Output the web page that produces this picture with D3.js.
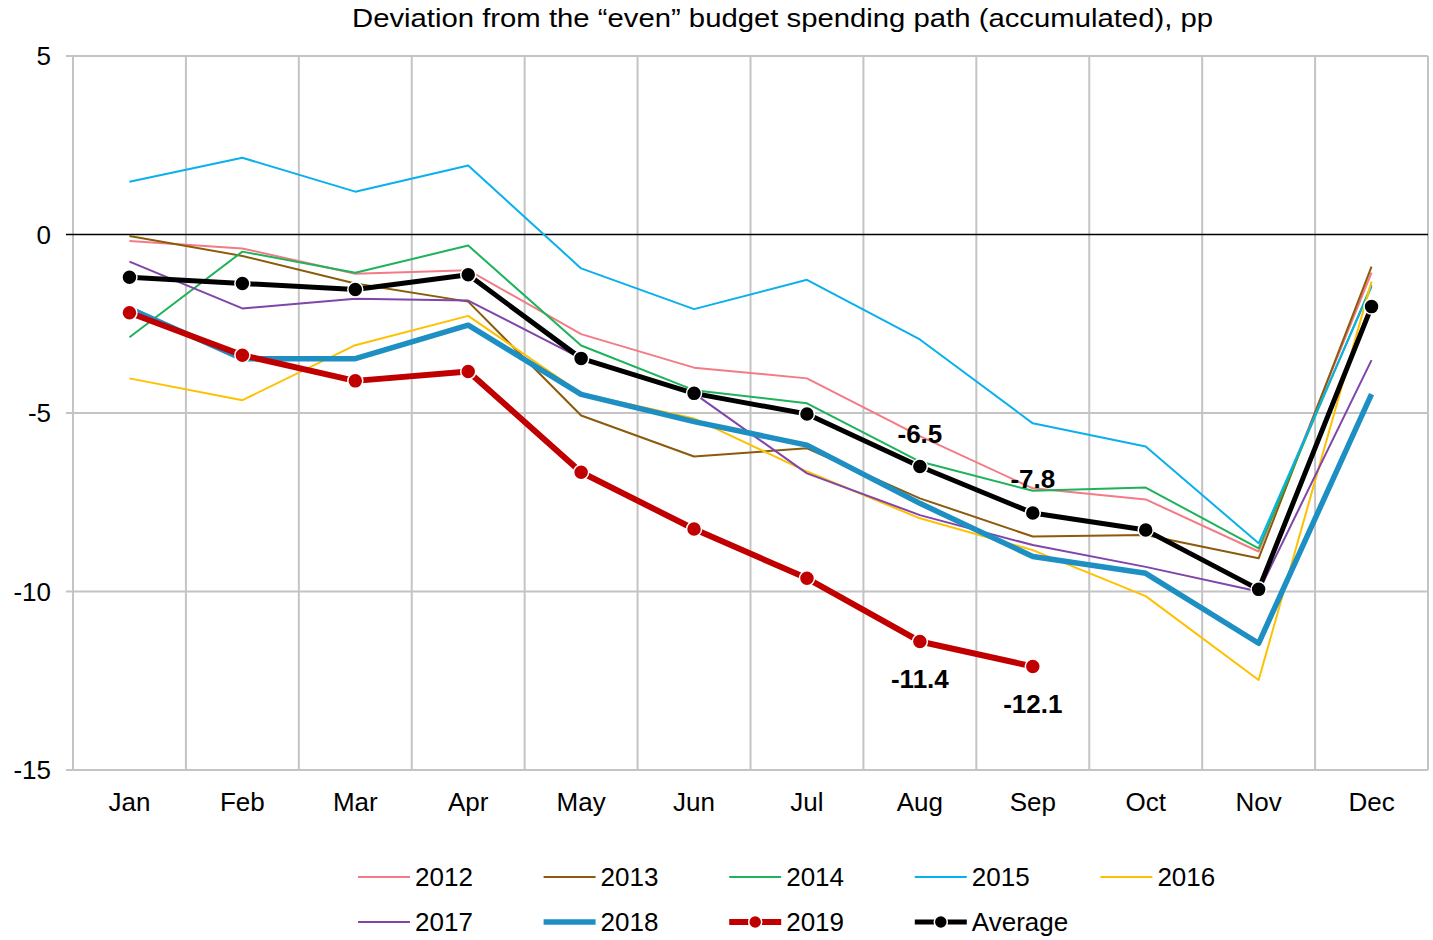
<!DOCTYPE html>
<html>
<head>
<meta charset="utf-8">
<script src="https://cdn.jsdelivr.net/npm/d3@7"></script>
<style>
  body { margin: 0; background: #fff; }
  text { font-family: "Liberation Sans", Arial, sans-serif; }
</style>
</head>
<body>
<div class="chart"></div>
<script>
var months = ["Jan", "Feb", "Mar", "Apr", "May", "Jun", "Jul", "Aug", "Sep", "Oct", "Nov", "Dec"];
var yTicks = [5, 0, -5, -10, -15];

var s2012 = [-0.18, -0.39, -1.1, -1.0, -2.79, -3.73, -4.03, -5.65, -7.11, -7.42, -8.88, -1.07];
var s2013 = [-0.04, -0.6, -1.37, -1.88, -5.07, -6.22, -5.99, -7.39, -8.46, -8.42, -9.07, -0.9];
var s2014 = [-2.88, -0.48, -1.07, -0.31, -3.11, -4.36, -4.73, -6.36, -7.18, -7.09, -8.79, -1.41];
var s2015 = [1.48, 2.15, 1.2, 1.93, -0.95, -2.09, -1.27, -2.94, -5.29, -5.94, -8.65, -1.46];
var s2016 = [-4.03, -4.64, -3.1, -2.28, -4.45, -5.15, -6.64, -7.95, -8.84, -10.13, -12.48, -1.32];
var s2017 = [-0.76, -2.07, -1.8, -1.85, -3.47, -4.45, -6.69, -7.86, -8.7, -9.31, -10.0, -3.52];
var s2018 = [-2.07, -3.48, -3.48, -2.54, -4.48, -5.24, -5.9, -7.53, -9.02, -9.49, -11.45, -4.47];
var s2019 = [-2.19, -3.38, -4.1, -3.84, -6.66, -8.25, -9.63, -11.4, -12.1];
var sAvg = [-1.2, -1.37, -1.54, -1.13, -3.47, -4.45, -5.03, -6.5, -7.8, -8.28, -9.94, -2.02];

var series = [
    { name: "2012", values: s2012, color: "#F27B86", width: 2 },
    { name: "2013", values: s2013, color: "#8C5A0B", width: 2 },
    { name: "2014", values: s2014, color: "#1EB25A", width: 2 },
    { name: "2015", values: s2015, color: "#0AB0EE", width: 2 },
    { name: "2016", values: s2016, color: "#FFC000", width: 2 },
    { name: "2017", values: s2017, color: "#7F45AA", width: 2 },
    { name: "2018", values: s2018, color: "#1E8FC3", width: 5.5 },
    { name: "2019", values: s2019, color: "#C00000", width: 6, marker: true },
    { name: "Average", values: sAvg, color: "#000000", width: 5, marker: true }
];

// labelled points: [series name, month index, label, offset]
var labels = [
    ["Average", 7, "-6.5", -33],
    ["Average", 8, "-7.8", -34],
    ["2019", 7, "-11.4", 37],
    ["2019", 8, "-12.1", 37]
];

var width = 1433, height = 940;
var margin = { left: 73, right: 5, top: 56, bottom: 170 };

var svg = d3.select(".chart").append("svg")
    .attr("width", width)
    .attr("height", height);

var x = d3.scaleBand().domain(months).range([margin.left, width - margin.right]);
var y = d3.scaleLinear().domain([-15, 5]).range([height - margin.bottom, margin.top]);

// title
svg.append("text")
    .attr("x", 352).attr("y", 27)
    .attr("textLength", 861)
    .attr("lengthAdjust", "spacingAndGlyphs")
    .style("font-size", "26px")
    .text("Deviation from the \u201ceven\u201d budget spending path (accumulated), pp");

// horizontal gridlines
var grid = svg.append("g");
grid.selectAll(".hg")
    .data(yTicks.filter(function(d) { return d !== 0; }))
    .enter().append("line")
    .attr("x1", margin.left - 7).attr("x2", width - margin.right)
    .attr("y1", function(d) { return y(d); }).attr("y2", function(d) { return y(d); })
    .attr("stroke", "#C4C4C4").attr("stroke-width", 2);

// vertical gridlines at band boundaries
var bounds = months.map(function(m) { return x(m); }).concat([x(months[11]) + x.bandwidth()]);
grid.selectAll(".vg")
    .data(bounds)
    .enter().append("line")
    .attr("x1", function(d) { return d; }).attr("x2", function(d) { return d; })
    .attr("y1", y(5)).attr("y2", y(-15))
    .attr("stroke", "#C4C4C4").attr("stroke-width", 2);

// zero line
svg.append("line")
    .attr("x1", margin.left - 7).attr("x2", width - margin.right)
    .attr("y1", y(0)).attr("y2", y(0))
    .attr("stroke", "#000").attr("stroke-width", 1.5);

// y labels
svg.append("g").selectAll("text")
    .data(yTicks)
    .enter().append("text")
    .attr("x", 51)
    .attr("y", function(d) { return y(d); })
    .attr("dy", "0.35em")
    .attr("text-anchor", "end")
    .style("font-size", "26px")
    .text(function(d) { return d; });

// x labels
svg.append("g").selectAll("text")
    .data(months)
    .enter().append("text")
    .attr("x", function(d) { return x(d) + x.bandwidth() / 2; })
    .attr("y", 811)
    .attr("text-anchor", "middle")
    .style("font-size", "26px")
    .text(function(d) { return d; });

var line = d3.line()
    .x(function(d, i) { return x(months[i]) + x.bandwidth() / 2; })
    .y(function(d) { return y(d); });

var g = svg.selectAll(".series")
    .data(series)
    .enter().append("g");

g.append("path")
    .attr("d", function(d) { return line(d.values); })
    .attr("fill", "none")
    .attr("stroke", function(d) { return d.color; })
    .attr("stroke-width", function(d) { return d.width; })
    .attr("stroke-linejoin", "round");

g.filter(function(d) { return d.marker; })
    .selectAll("circle")
    .data(function(d) { return d.values.map(function(v, i) { return { v: v, i: i, color: d.color }; }); })
    .enter().append("circle")
    .attr("cx", function(d) { return x(months[d.i]) + x.bandwidth() / 2; })
    .attr("cy", function(d) { return y(d.v); })
    .attr("r", 7.5)
    .attr("fill", function(d) { return d.color; })
    .attr("stroke", "#fff")
    .attr("stroke-width", 1.5);

// data labels
svg.append("g").selectAll("text")
    .data(labels)
    .enter().append("text")
    .attr("x", function(d) { return x(months[d[1]]) + x.bandwidth() / 2; })
    .attr("y", function(d) {
        var s = series.find(function(e) { return e.name === d[0]; });
        return y(s.values[d[1]]) + d[3];
    })
    .attr("dy", "0.35em")
    .attr("text-anchor", "middle")
    .style("font-size", "26px")
    .style("font-weight", "bold")
    .text(function(d) { return d[2]; });

// legend
var legend = svg.append("g").selectAll("g")
    .data(series)
    .enter().append("g")
    .attr("transform", function(d, i) {
        return "translate(" + (358 + (i % 5) * 185.6) + "," + (877 + Math.floor(i / 5) * 45) + ")";
    });

legend.append("line")
    .attr("x1", 0).attr("x2", 52)
    .attr("stroke", function(d) { return d.color; })
    .attr("stroke-width", function(d) { return d.width; });

legend.filter(function(d) { return d.marker; })
    .append("circle")
    .attr("cx", 26).attr("r", 6.5)
    .attr("fill", function(d) { return d.color; })
    .attr("stroke", "#fff").attr("stroke-width", 1.5);

legend.append("text")
    .attr("x", 57)
    .attr("dy", "0.36em")
    .style("font-size", "26px")
    .text(function(d) { return d.name; });
</script>
</body>
</html>
